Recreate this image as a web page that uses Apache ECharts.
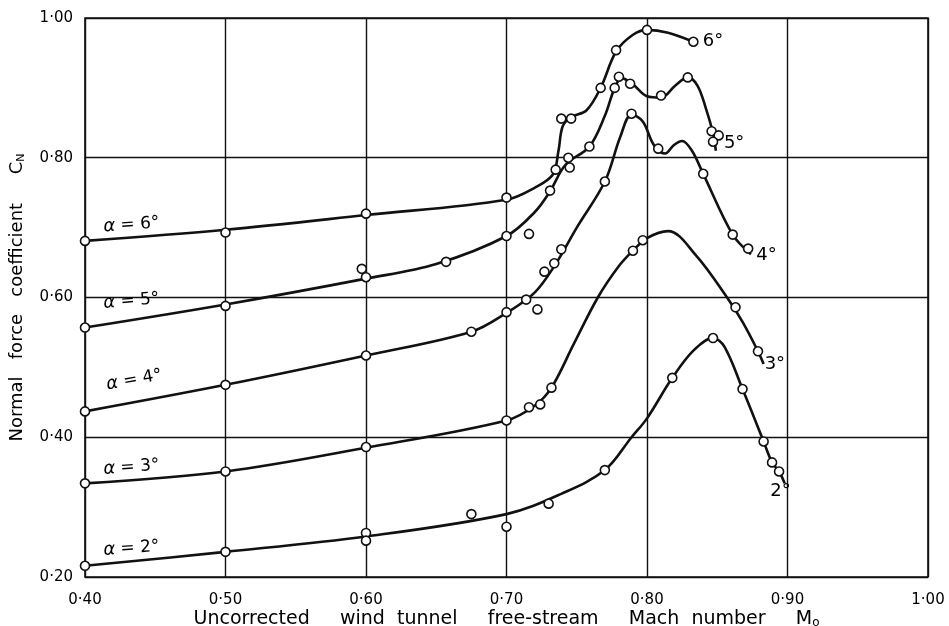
<!DOCTYPE html>
<html>
<head>
<meta charset="utf-8">
<title>Normal force coefficient</title>
<script src="https://cdn.jsdelivr.net/npm/echarts@6/dist/echarts.min.js"></script>
<style>
html,body{margin:0;padding:0;background:#fff;}
#chart{width:949px;height:626px;}
</style>
</head>
<body>
<div id="chart"></div>
<script>
// tick labels
var xTickValues=[0.4,0.5,0.6,0.7,0.8,0.9,1.0];
var xTickLabels=['0·40','0·50','0·60','0·70','0·80','0·90','1·00'];
var yTickValues=[0.2,0.4,0.6,0.8,1.0];
var yTickLabels=['0·20','0·40','0·60','0·80','1·00'];

// faired curves [Mach, CN]
var curve6=[[0.40,0.681],[0.50,0.697],[0.60,0.718],[0.70,0.740],[0.72,0.757],[0.733,0.776],[0.737,0.81],[0.740,0.845],[0.746,0.858],[0.757,0.868],[0.767,0.90],[0.778,0.952],[0.79,0.976],[0.80,0.983],[0.815,0.979],[0.833,0.966]];
var curve5=[[0.40,0.557],[0.50,0.590],[0.60,0.627],[0.65,0.648],[0.70,0.688],[0.72,0.722],[0.731,0.752],[0.742,0.79],[0.759,0.816],[0.77,0.86],[0.777,0.90],[0.782,0.914],[0.79,0.905],[0.80,0.888],[0.81,0.886],[0.82,0.903],[0.829,0.915],[0.836,0.903],[0.842,0.87],[0.847,0.835],[0.849,0.81]];
var curve4=[[0.40,0.437],[0.50,0.475],[0.60,0.517],[0.675,0.551],[0.70,0.578],[0.72,0.607],[0.735,0.648],[0.75,0.70],[0.77,0.766],[0.781,0.83],[0.789,0.862],[0.797,0.852],[0.805,0.818],[0.813,0.806],[0.819,0.818],[0.825,0.824],[0.832,0.81],[0.84,0.777],[0.861,0.69],[0.874,0.662]];
var curve3=[[0.40,0.334],[0.50,0.351],[0.60,0.385],[0.70,0.424],[0.72,0.445],[0.732,0.471],[0.748,0.534],[0.765,0.60],[0.78,0.645],[0.79,0.667],[0.80,0.685],[0.815,0.695],[0.835,0.66],[0.857,0.60],[0.868,0.565],[0.879,0.523],[0.883,0.505]];
var curve2=[[0.40,0.216],[0.50,0.236],[0.60,0.258],[0.70,0.29],[0.739,0.319],[0.77,0.353],[0.789,0.40],[0.80,0.427],[0.818,0.485],[0.833,0.524],[0.847,0.542],[0.855,0.53],[0.868,0.469],[0.883,0.394],[0.889,0.364],[0.894,0.351],[0.898,0.334]];

// test points
var points6=[[0.40,0.681],[0.50,0.693],[0.60,0.72],[0.70,0.743],[0.735,0.783],[0.739,0.856],[0.746,0.856],[0.767,0.90],[0.778,0.954],[0.80,0.983],[0.833,0.966]];
var points5=[[0.40,0.557],[0.50,0.588],[0.60,0.629],[0.597,0.641],[0.657,0.651],[0.70,0.688],[0.716,0.691],[0.731,0.753],[0.744,0.80],[0.745,0.786],[0.759,0.816],[0.777,0.90],[0.78,0.916],[0.788,0.906],[0.81,0.889],[0.829,0.915],[0.846,0.838],[0.851,0.832],[0.847,0.823]];
var points4=[[0.40,0.437],[0.50,0.475],[0.60,0.517],[0.675,0.551],[0.70,0.579],[0.714,0.597],[0.722,0.583],[0.727,0.637],[0.734,0.649],[0.739,0.669],[0.77,0.766],[0.789,0.863],[0.808,0.813],[0.84,0.777],[0.861,0.69],[0.872,0.67]];
var points3=[[0.40,0.334],[0.50,0.351],[0.60,0.386],[0.70,0.424],[0.716,0.443],[0.724,0.447],[0.732,0.471],[0.79,0.667],[0.797,0.682],[0.863,0.586],[0.879,0.523]];
var points2=[[0.40,0.216],[0.50,0.236],[0.60,0.263],[0.60,0.252],[0.675,0.29],[0.70,0.272],[0.73,0.305],[0.77,0.353],[0.818,0.485],[0.847,0.542],[0.868,0.469],[0.883,0.394],[0.889,0.364],[0.894,0.351]];

// curve labels, anchored in data units
var leftLabels=[
	{name:'α = 6°',value:[0.433,0.704],rot:4},
	{name:'α = 5°',value:[0.433,0.595],rot:5},
	{name:'α = 4°',value:[0.435,0.482],rot:10},
	{name:'α = 3°',value:[0.433,0.357],rot:4},
	{name:'α = 2°',value:[0.433,0.241],rot:4}
];
var rightLabels=[
	{name:'6°',value:[0.847,0.967]},
	{name:'5°',value:[0.862,0.820]},
	{name:'4°',value:[0.885,0.660]},
	{name:'3°',value:[0.891,0.504]},
	{name:'2°',value:[0.895,0.322]}
];

var cnChart={
	font:'DejaVu Sans',
	ink:'#111',
	init:function(){
		var self=this;
		var myChart=echarts.init(document.getElementById('chart'));
		var curves=[curve6,curve5,curve4,curve3,curve2];
		var points=[points6,points5,points4,points3,points2];
		var series=[];
		for(var i=0;i<curves.length;i++){
			series.push({
				type:'line',
				data:curves[i],
				smooth:0.35,
				showSymbol:false,
				symbol:'none',
				silent:true,
				lineStyle:{color:self.ink,width:2.6},
				z:3
			});
			series.push({
				type:'scatter',
				data:points[i],
				symbol:'circle',
				symbolSize:9,
				silent:true,
				itemStyle:{color:'#fff',borderColor:self.ink,borderWidth:1.6,opacity:1},
				z:5
			});
		}
		series.push({
			type:'scatter',
			data:leftLabels,
			symbolSize:0,
			silent:true,
			itemStyle:{opacity:1},
			label:{
				show:true,
				position:'inside',
				formatter:function(p){return p.name.replace('α','{a|α}');},
				color:'#000',
				opacity:1,
				fontFamily:self.font,
				fontSize:17,
				rich:{a:{fontFamily:self.font,fontSize:18,fontStyle:'italic',color:'#000'}}
			},
			labelLayout:function(p){
				return {rotate:leftLabels[p.dataIndex].rot};
			},
			z:6
		});
		series.push({
			type:'scatter',
			data:rightLabels,
			symbolSize:0,
			silent:true,
			itemStyle:{opacity:1},
			label:{
				show:true,
				position:'inside',
				formatter:function(p){return p.name;},
				color:'#000',
				opacity:1,
				fontFamily:self.font,
				fontSize:18
			},
			z:6
		});

		var option={
			backgroundColor:'#fff',
			animation:false,
			grid:{
				left:85,
				right:21,
				top:18,
				bottom:49,
				outerBoundsMode:'none',
				containLabel:false,
				show:true,
				borderColor:self.ink,
				borderWidth:1.6
			},
			xAxis:{
				type:'value',
				min:0.4,
				max:1.0,
				interval:0.1,
				name:'Uncorrected     wind  tunnel     free-stream     Mach  number     M{sub|o}',
				nameLocation:'middle',
				nameGap:33,
				nameMoveOverlap:false,
				nameTextStyle:{
					color:'#000',
					fontFamily:self.font,
					fontSize:19,
					rich:{sub:{fontSize:12,verticalAlign:'bottom',padding:[5,0,0,0],fontFamily:self.font,color:'#000'}}
				},
				axisLine:{show:false},
				axisTick:{show:false},
				splitLine:{show:true,lineStyle:{color:self.ink,width:1.4}},
				axisLabel:{
					color:'#000',
					fontFamily:self.font,
					fontSize:15,
					margin:16,
					formatter:function(v){
						var idx=Math.round((v-0.4)/0.1);
						return xTickLabels[idx];
					}
				}
			},
			yAxis:{
				type:'value',
				min:0.2,
				max:1.0,
				interval:0.2,
				name:'Normal   force   coefficient     C{sub|N}',
				nameLocation:'middle',
				nameRotate:90,
				nameGap:58,
				nameMoveOverlap:false,
				nameTextStyle:{
					color:'#000',
					fontFamily:self.font,
					fontSize:18,
					rich:{sub:{fontSize:11,fontFamily:self.font,color:'#000',padding:[8,0,0,0]}}
				},
				axisLine:{show:false},
				axisTick:{show:false},
				splitLine:{show:true,lineStyle:{color:self.ink,width:1.4}},
				axisLabel:{
					color:'#000',
					fontFamily:self.font,
					fontSize:15,
					margin:12,
					formatter:function(v){
						var idx=Math.round((v-0.2)/0.2);
						return yTickLabels[idx];
					}
				}
			},
			series:series
		};
		myChart.setOption(option,true);
	}
};
cnChart.init();
</script>
</body>
</html>
